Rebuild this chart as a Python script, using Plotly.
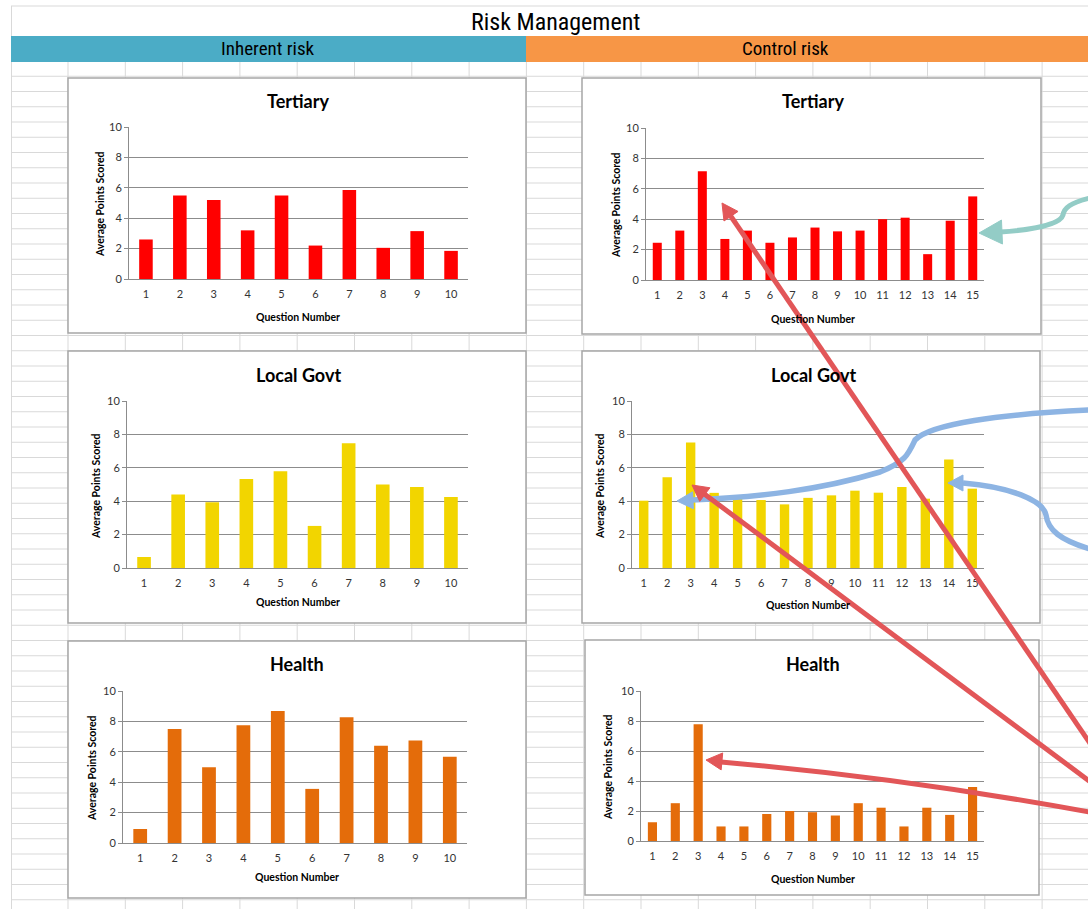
import plotly.graph_objects as go

# ---------------- data ----------------
q10 = list(range(1, 11))
q15 = list(range(1, 16))

inherent_tertiary = [2.6, 5.5, 5.2, 3.2, 5.5, 2.2, 5.85, 2.05, 3.15, 1.85]
control_tertiary = [2.45, 3.25, 7.15, 2.7, 3.25, 2.45, 2.8, 3.45, 3.2, 3.25, 4.0, 4.1, 1.7, 3.9, 5.5]
inherent_local = [0.66, 4.4, 3.93, 5.33, 5.8, 2.52, 7.47, 5.0, 4.85, 4.25]
control_local = [4.03, 5.43, 7.52, 4.5, 4.3, 4.07, 3.81, 4.2, 4.35, 4.63, 4.51, 4.85, 4.15, 6.5, 4.75]
inherent_health = [0.92, 7.5, 4.98, 7.75, 8.68, 3.56, 8.28, 6.4, 6.75, 5.68]
control_health = [1.25, 2.52, 7.78, 0.97, 0.97, 1.8, 2.0, 1.92, 1.7, 2.52, 2.22, 0.97, 2.22, 1.74, 3.6]

chart_titles = ["Tertiary", "Tertiary", "Local Govt", "Local Govt", "Health", "Health"]
column_headers = ["Inherent risk", "Control risk"]
main_title = "Risk Management"
x_title = "Question Number"
y_title = "Average Points Scored"

RED = "#FF0000"
YELLOW = "#F2D500"
ORANGE = "#E46C0A"

W, H = 1088, 909


def px(x):
    return x / W


def py(y):
    return 1 - y / H


panels = [
    dict(q=q10, v=inherent_tertiary, c=RED, area=(129, 468, 127, 279), box=(68, 78, 526, 333),
         tpos=(298, 101), xpos=(298, 317), ypos=(100, 204)),
    dict(q=q15, v=control_tertiary, c=RED, area=(646, 984, 128, 280), box=(582, 78, 1041, 334),
         tpos=(813, 101), xpos=(813, 319), ypos=(616, 205)),
    dict(q=q10, v=inherent_local, c=YELLOW, area=(127, 468, 401, 568), box=(68, 351, 526, 623),
         tpos=(298, 375), xpos=(298, 602), ypos=(96, 486)),
    dict(q=q15, v=control_local, c=YELLOW, area=(632, 984, 401, 568), box=(582, 351, 1040, 623),
         tpos=(813, 375), xpos=(808, 605), ypos=(600, 486)),
    dict(q=q10, v=inherent_health, c=ORANGE, area=(123, 467, 691, 843), box=(68, 641, 526, 898),
         tpos=(297, 664), xpos=(297, 877), ypos=(92, 768)),
    dict(q=q15, v=control_health, c=ORANGE, area=(641, 984, 691, 841), box=(585, 640, 1039, 895),
         tpos=(813, 664), xpos=(813, 879), ypos=(608, 767)),
]

fig = go.Figure()
layout = dict(
    width=W, height=H, margin=dict(l=0, r=0, t=0, b=0, pad=0, autoexpand=False),
    paper_bgcolor="white", plot_bgcolor="rgba(0,0,0,0)",
    showlegend=False, bargap=0.6,
    font=dict(family="Lato, Open Sans, sans-serif", color="#333333"),
)

shapes = []
annotations = []


def label(text, x, y, size, family=None, bold=False, angle=0, color="#000000"):
    f = dict(size=size, color=color)
    if family:
        f["family"] = family
    if bold:
        f["weight"] = "bold"
    annotations.append(dict(text=text, x=px(x), y=py(y), xref="paper", yref="paper",
                            xanchor="center", yanchor="middle", showarrow=False,
                            textangle=angle, font=f))


GRID = "#D9D9D9"
shapes.append(dict(type="line", xref="paper", yref="paper", x0=px(11), x1=1, y0=py(6), y1=py(6),
                   line=dict(color=GRID, width=1), layer="below"))
shapes.append(dict(type="line", xref="paper", yref="paper", x0=px(11.5), x1=px(11.5), y0=py(6), y1=0,
                   line=dict(color=GRID, width=1), layer="below"))
y = 61.0
while y < H:
    shapes.append(dict(type="line", xref="paper", yref="paper", x0=px(11), x1=1, y0=py(y), y1=py(y),
                       line=dict(color=GRID, width=1), layer="below"))
    y += 15.25
for k in range(18):
    xx = 68 + 57.3 * k
    shapes.append(dict(type="line", xref="paper", yref="paper", x0=px(xx), x1=px(xx), y0=py(61), y1=0,
                       line=dict(color=GRID, width=1), layer="below"))

shapes.append(dict(type="rect", xref="paper", yref="paper", x0=px(11), x1=px(526), y0=py(36), y1=py(62),
                   fillcolor="#4BACC6", line=dict(width=0), layer="below"))
shapes.append(dict(type="rect", xref="paper", yref="paper", x0=px(526), x1=1, y0=py(36), y1=py(62),
                   fillcolor="#F79646", line=dict(width=0), layer="below"))

NARROW = "Liberation Sans Narrow, Arial Narrow, Roboto Condensed, Liberation Sans, sans-serif"
label(main_title, 555, 22, 24, family=NARROW)
label(column_headers[0], 268, 49, 19, family=NARROW)
label(column_headers[1], 785, 49, 19, family=NARROW)

AX = "#8C8C8C"
for i, p in enumerate(panels, start=1):
    xa = "x" if i == 1 else f"x{i}"
    ya = "y" if i == 1 else f"y{i}"
    fig.add_trace(go.Bar(x=p["q"], y=p["v"], marker=dict(color=p["c"], line=dict(width=0)),
                         xaxis=xa, yaxis=ya, width=0.4))
    x0, x1, yt, yb = p["area"]
    n = len(p["q"])
    layout["xaxis" if i == 1 else f"xaxis{i}"] = dict(
        domain=[px(x0), px(x1)], anchor=ya, range=[0.5, n + 0.5],
        tickmode="array", tickvals=p["q"], ticktext=[str(v) for v in p["q"]],
        showgrid=False, zeroline=False, showline=True, linecolor=AX, linewidth=1,
        ticks="outside", ticklen=5, tickcolor="rgba(0,0,0,0)", automargin=False,
        tickfont=dict(size=11, color="#333333"), fixedrange=True)
    layout["yaxis" if i == 1 else f"yaxis{i}"] = dict(
        domain=[py(yb), py(yt)], anchor=xa, range=[0, 10], dtick=2, tick0=0,
        showgrid=True, gridcolor=AX, gridwidth=1, zeroline=False,
        showline=True, linecolor=AX, linewidth=1, automargin=False,
        ticks="outside", ticklen=4, tickcolor=AX,
        tickfont=dict(size=11, color="#333333"), fixedrange=True)
    bx0, by0, bx1, by1 = p["box"]
    shapes.append(dict(type="rect", xref="paper", yref="paper", x0=px(bx0), x1=px(bx1), y0=py(by0), y1=py(by1),
                       fillcolor="white", line=dict(color="#A6A6A6", width=1.5), layer="below"))
    label(chart_titles[i - 1], p["tpos"][0], p["tpos"][1], 18, bold=True)
    label(x_title, p["xpos"][0], p["xpos"][1], 10.5, bold=True)
    label(y_title, p["ypos"][0], p["ypos"][1], 10.5, bold=True, angle=-90)


# ---------------- annotation arrows (decoration) ----------------
def P(x, y):
    return f"{px(x):.5f},{py(y):.5f}"


def head(tip, frm, length, width, color):
    dx, dy = tip[0] - frm[0], tip[1] - frm[1]
    d = (dx * dx + dy * dy) ** 0.5
    ux, uy = dx / d, dy / d
    bx, by = tip[0] - ux * length, tip[1] - uy * length
    nx, ny = -uy, ux
    c1 = (bx + nx * width / 2, by + ny * width / 2)
    c2 = (bx - nx * width / 2, by - ny * width / 2)
    return dict(type="path", xref="paper", yref="paper",
                path=f"M{P(*tip)} L{P(*c1)} L{P(*c2)} Z",
                fillcolor=color, line=dict(color=color, width=1), layer="above")


def curve(d, color, width):
    return dict(type="path", xref="paper", yref="paper", path=d, fillcolor="rgba(0,0,0,0)",
                line=dict(color=color, width=width), layer="above")


TEAL = "#93CCC6"
BLUE = "#8DB4E3"
RARROW = "#E25658"

shapes.append(curve(f"M{P(1090,198)} C{P(1070,203)} {P(1064,208)} {P(1063,215)} "
                    f"C{P(1060,225)} {P(1030,230)} {P(1000,232)}", TEAL, 5))
shapes.append(head((979, 233), (1003, 232), 23, 24, TEAL))
shapes.append(curve(f"M{P(1090,410)} C{P(1000,414)} {P(930,424)} {P(915,440)} "
                    f"C{P(908,455)} {P(905,462)} {P(880,472)} "
                    f"C{P(820,490)} {P(760,497)} {P(692,500)}", BLUE, 5.5))
shapes.append(head((677, 501), (700, 500), 16, 17, BLUE))
shapes.append(curve(f"M{P(1090,549)} C{P(1060,540)} {P(1048,530)} {P(1046,515)} "
                    f"C{P(1043,500)} {P(1010,487)} {P(963,483)}", BLUE, 5.5))
shapes.append(head((948, 483), (964, 483), 15, 16, BLUE))
shapes.append(curve(f"M{P(1100,758)} L{P(730,215)}", RARROW, 5))
shapes.append(head((722, 203), (993, 600), 16, 17, RARROW))
shapes.append(curve(f"M{P(1100,789)} L{P(703,493)}", RARROW, 5))
shapes.append(head((692, 485), (878, 624), 16, 17, RARROW))
shapes.append(curve(f"M{P(1100,814)} Q{P(906,778)} {P(721,762)}", RARROW, 5))
shapes.append(head((706, 760), (906, 778), 16, 17, RARROW))

layout["shapes"] = shapes
layout["annotations"] = annotations
fig.update_layout(**layout)
fig.write_html("out.html")
